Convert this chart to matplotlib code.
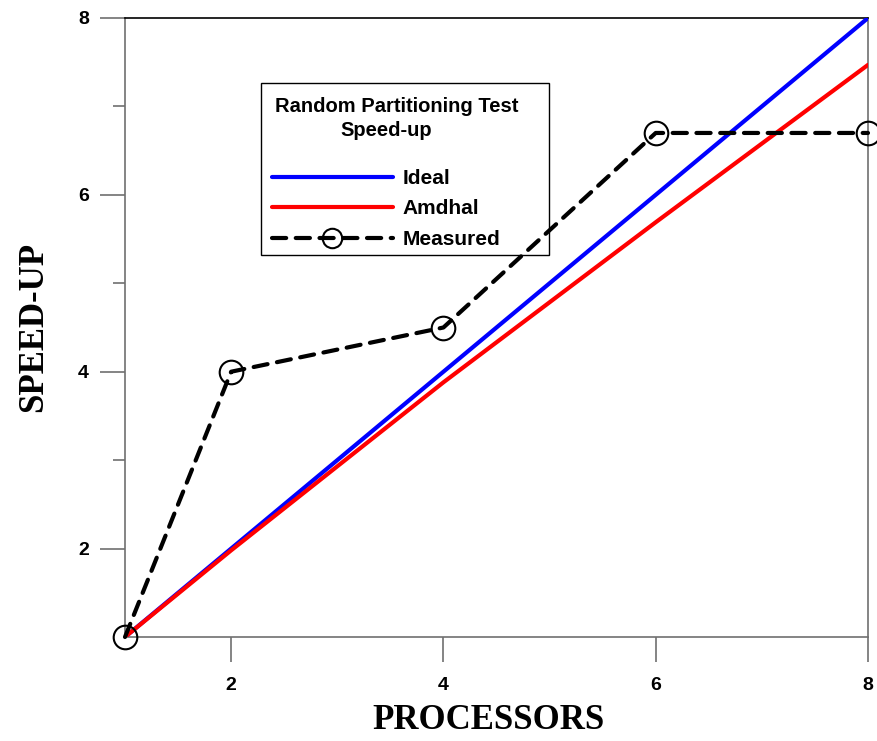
import matplotlib
matplotlib.use("Agg")
import matplotlib.pyplot as plt
from matplotlib.patches import Rectangle

processors = [1, 2, 4, 6, 8]
ideal = [1, 2, 4, 6, 8]
amdahl = [1, 1.98, 3.88, 5.69, 7.47]
measured = [1, 4, 4.5, 6.7, 6.7]
title_lines = ["Random Partitioning Test", "Speed-up"]

W, H = 878, 741
fig = plt.figure(figsize=(W / 100, H / 100), dpi=100)
ax = fig.add_axes([125 / W, 1 - 637 / H, (868 - 125) / W, (637 - 18) / H])

ax.plot(processors, ideal, color="#0000ff", lw=3, label="Ideal", solid_capstyle="round", zorder=3)
ax.plot(processors, amdahl, color="#ff0000", lw=3, label="Amdhal", solid_capstyle="round", zorder=3)
ax.plot(processors, measured, color="black", lw=3, ls=(0, (3.4, 2.3)), dash_capstyle="round",
        marker="o", ms=17, mfc="none", mec="black", mew=1.5, label="Measured",
        clip_on=False, zorder=4)

ax.set_xlim(1, 8)
ax.set_ylim(1, 8)
ax.set_xticks([2, 4, 6, 8])
ax.set_yticks([2, 4, 6, 8])
ax.set_yticks([3, 5, 7], minor=True)
ax.tick_params(axis="both", which="major", direction="out", length=18, width=1.2,
               color="#707070", labelsize=14)
ax.tick_params(axis="x", which="major", pad=11)
ax.tick_params(axis="y", which="major", pad=8)
ax.tick_params(axis="y", which="minor", direction="out", length=9, width=1.2, color="#707070")
for lab in ax.get_xticklabels() + ax.get_yticklabels():
    lab.set_fontweight("bold")
    lab.set_family("Liberation Sans")
for s in ["left", "bottom", "right"]:
    ax.spines[s].set_color("#707070")
    ax.spines[s].set_linewidth(1.2)
ax.spines["top"].set_color("black")
ax.spines["top"].set_linewidth(1.2)

ax.set_xlabel("PROCESSORS", family="Liberation Serif", fontweight="bold", fontsize=25)
ax.xaxis.set_label_coords((489 - 125) / 743, -(704 - 637) / 619)
ax.set_ylabel("SPEED-UP", family="Liberation Serif", fontweight="bold", fontsize=25)
ax.yaxis.set_label_coords((50 - 125) / 743, (637 - 327) / 619)

# legend box
fig.patches.append(Rectangle((261 / W, 1 - 255 / H), (549 - 261) / W, (255 - 83) / H,
                             transform=fig.transFigure, fill=False, ec="black", lw=1.0, zorder=5))
fig.text(275 / W, 1 - 107 / H, title_lines[0], ha="left", va="center",
         family="Liberation Sans", fontweight="bold", fontsize=14.5)
fig.text(340 / W, 1 - 131 / H, title_lines[1], ha="left", va="center",
         family="Liberation Sans", fontweight="bold", fontsize=14.5)
leg = ax.legend(loc="upper left", bbox_to_anchor=(272 / W, 1 - 169 / H), bbox_transform=fig.transFigure,
                frameon=False,
                prop={"family": "Liberation Sans", "weight": "bold", "size": 15},
                handlelength=5.8, handletextpad=0.48, labelspacing=0.55, numpoints=1,
                borderaxespad=0, borderpad=0)
leg.legend_handles[2].set_markersize(14)
leg.set_zorder(6)

fig.savefig("out.png", dpi=100)
